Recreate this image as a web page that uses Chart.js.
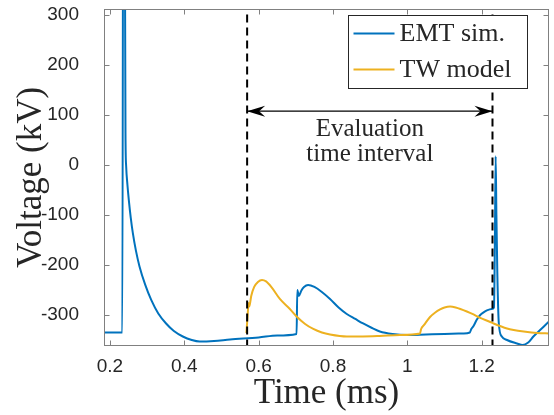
<!DOCTYPE html>
<html><head><meta charset="utf-8">
<script src="https://cdn.jsdelivr.net/npm/chart.js@4.4.0/dist/chart.umd.min.js"></script>
<style>html,body{margin:0;padding:0;background:#fff;}canvas{display:block;}</style>
</head><body>
<canvas id="c" width="554" height="415"></canvas>
<script>
// ---- data ----
const emtTime = [0.184,0.2333,0.2362,0.2400,0.2418,0.2436,0.2470,0.2507,0.2560,0.2615,0.2700,0.2795,0.2950,0.3110,0.3300,0.3510,0.3720,0.3960,0.4200,0.4410,0.4800,0.5230,0.6000,0.6500,0.7020,0.7040,0.7080,0.7150,0.7220,0.7330,0.7500,0.7700,0.7920,0.8150,0.8370,0.8600,0.8810,0.9050,0.9260,0.9600,1.0000,1.0500,1.1000,1.1500,1.1680,1.1720,1.1780,1.1870,1.1960,1.2050,1.2140,1.2270,1.2330,1.2355,1.2375,1.2395,1.2420,1.2460,1.2540,1.2680,1.2950,1.3100,1.3250,1.3390,1.3600,1.3810];
const emtVoltage = [-335,-335,900,500,63,-3,-40,-70,-106,-136,-172,-203,-240,-270,-297,-317,-332,-343,-350,-353,-352,-349,-345,-341,-338,-250,-262,-251,-244,-240,-244,-254,-268,-285,-298,-308,-317,-326,-333,-338,-340,-339,-338,-337,-335,-328,-322,-309,-300,-295,-291,-288,-285,-150,17,-100,-216,-317,-343,-350,-357,-360,-355,-343,-328,-313];
const twTime = [0.5670,0.5700,0.5730,0.5750,0.5800,0.5880,0.5980,0.6090,0.6200,0.6350,0.6570,0.6840,0.7020,0.7250,0.7470,0.7700,0.7920,0.8370,0.8800,0.9260,0.9800,1.0340,1.0370,1.0450,1.0610,1.0750,1.0880,1.1000,1.1150,1.1300,1.1600,1.1780,1.1960,1.2230,1.2320,1.2680,1.2860,1.3130,1.3500,1.3810];
const twVoltage = [-336,-305,-276,-283,-262,-244,-234,-230,-233,-245,-268,-288,-303,-318,-328,-335,-339,-343,-343,-342,-340,-337,-328,-320,-304,-295,-289,-285,-283,-285,-293,-299,-306,-314,-317,-327,-330,-333,-336,-337];
const seriesLabels = ['EMT sim.', 'TW model'];
const xTickValues = [0.2, 0.4, 0.6, 0.8, 1.0, 1.2];
const xTickLabels = ['0.2', '0.4', '0.6', '0.8', '1', '1.2'];
const yTickValues = [-300, -200, -100, 0, 100, 200, 300];
const yTickLabels = ['-300', '-200', '-100', '0', '100', '200', '300'];
const xRange = [0.184, 1.381];
const yRange = [-362, 311];
const intervalStart = 0.569, intervalEnd = 1.229;
const dashTop = 300;
const arrowLevel = 107;
const annotationLines = ['Evaluation', 'time interval'];
const annotationLevels = [57, 7];
const xTitle = 'Time (ms)';
const yTitle = 'Voltage (kV)';

// ---- styles ----
const BLUE = '#0072BD', ORANGE = '#EDB120', TXT = '#262626', AX = '#808080';
const SERIF = '"Liberation Serif", "Times New Roman", serif';
const SANS = '"Liberation Sans", Arial, sans-serif';

const pts = (xs, ys) => xs.map((v, i) => ({x: v, y: ys[i]}));

function head(ctx, tx, ty, dir) {
  ctx.beginPath();
  ctx.moveTo(tx, ty);
  ctx.lineTo(tx + dir * 18, ty - 5.5);
  ctx.lineTo(tx + dir * 12, ty);
  ctx.lineTo(tx + dir * 18, ty + 5.5);
  ctx.closePath();
  ctx.fill();
}

const decor = {
  id: 'decor',
  afterDatasetsDraw(chart) {
    const {ctx, chartArea: a, scales: {x, y}} = chart;
    ctx.save();
    ctx.fillStyle = '#000';
    const ay = y.getPixelForValue(arrowLevel);
    head(ctx, x.getPixelForValue(intervalStart), ay, 1);
    head(ctx, x.getPixelForValue(intervalEnd), ay, -1);
    ctx.fillStyle = TXT;
    ctx.font = '25px ' + SERIF;
    ctx.textAlign = 'center';
    ctx.textBaseline = 'alphabetic';
    const cx = x.getPixelForValue((intervalStart + intervalEnd) / 2);
    annotationLines.forEach((t, i) => ctx.fillText(t, cx, y.getPixelForValue(annotationLevels[i])));
    const L = Math.round(a.left) + 0.5, R = Math.round(a.right) - 0.5;
    const T = Math.round(a.top) + 0.5, B = Math.round(a.bottom) - 0.5;
    ctx.strokeStyle = AX; ctx.lineWidth = 1;
    ctx.strokeRect(L, T, R - L, B - T);
    ctx.beginPath();
    xTickValues.forEach(v => {
      const px = Math.round(x.getPixelForValue(v)) + 0.5;
      ctx.moveTo(px, B); ctx.lineTo(px, B - 5);
      ctx.moveTo(px, T); ctx.lineTo(px, T + 5);
    });
    yTickValues.forEach(v => {
      const py = Math.round(y.getPixelForValue(v)) + 0.5;
      ctx.moveTo(L, py); ctx.lineTo(L + 5, py);
      ctx.moveTo(R, py); ctx.lineTo(R - 5, py);
    });
    ctx.stroke();
    ctx.restore();
  },
  afterDraw(chart) {
    const {ctx, chartArea: a} = chart;
    ctx.save();
    const bx = Math.round(a.right - 22 - 179) + 0.5, by = Math.round(a.top + 6) + 0.5, bw = 179, bh = 73;
    ctx.fillStyle = '#fff';
    ctx.fillRect(bx, by, bw, bh);
    ctx.strokeStyle = '#262626'; ctx.lineWidth = 1;
    ctx.strokeRect(bx, by, bw, bh);
    const rows = [by + 18, by + 54];
    ctx.font = '26px ' + SERIF;
    ctx.textAlign = 'left'; ctx.textBaseline = 'middle';
    chart.data.datasets.slice(0, 2).forEach((ds, i) => {
      ctx.strokeStyle = ds.borderColor; ctx.lineWidth = 2;
      ctx.beginPath(); ctx.moveTo(bx + 5, rows[i]); ctx.lineTo(bx + 46, rows[i]); ctx.stroke();
      ctx.fillStyle = TXT;
      ctx.fillText(ds.label, bx + 51, rows[i] + 1);
    });
    ctx.restore();
  }
};

new Chart(document.getElementById('c'), {
  type: 'line',
  data: {
    datasets: [
      {label: seriesLabels[0], data: pts(emtTime, emtVoltage), borderColor: BLUE, borderWidth: 2, pointRadius: 0, cubicInterpolationMode: 'monotone', clip: 0, order: 2},
      {label: seriesLabels[1], data: pts(twTime, twVoltage), borderColor: ORANGE, borderWidth: 2, pointRadius: 0, cubicInterpolationMode: 'monotone', clip: 0, order: 1},
      {label: 'start', data: [{x: intervalStart, y: dashTop}, {x: intervalStart, y: yRange[0]}], borderColor: '#000', borderWidth: 2, borderDash: [8, 5], pointRadius: 0, clip: 0, order: 0},
      {label: 'end', data: [{x: intervalEnd, y: dashTop}, {x: intervalEnd, y: yRange[0]}], borderColor: '#000', borderWidth: 2, borderDash: [8, 5], pointRadius: 0, clip: 0, order: 0},
      {label: 'arrow', data: [{x: intervalStart, y: arrowLevel}, {x: intervalEnd, y: arrowLevel}], borderColor: '#000', borderWidth: 1.2, pointRadius: 0, clip: 0, order: 0}
    ]
  },
  options: {
    responsive: false,
    animation: false,
    devicePixelRatio: 1,
    layout: {padding: {top: 9, right: 5, left: 0, bottom: 0}},
    plugins: {legend: {display: false}, tooltip: {enabled: false}},
    scales: {
      x: {
        type: 'linear', min: xRange[0], max: xRange[1],
        afterBuildTicks: s => { s.ticks = xTickValues.map(v => ({value: v})); },
        afterFit: s => { s.height = 69; s.paddingLeft = 0; s.paddingRight = 0; },
        grid: {display: false}, border: {display: false},
        ticks: {callback: (v, i) => xTickLabels[i], color: TXT, font: {family: SANS, size: 19}, padding: 1, maxRotation: 0, autoSkip: false},
        title: {display: true, text: xTitle, color: TXT, font: {family: SERIF, size: 35, lineHeight: 1}, padding: {top: 0, bottom: 4}}
      },
      y: {
        type: 'linear', min: yRange[0], max: yRange[1],
        afterBuildTicks: s => { s.ticks = yTickValues.map(v => ({value: v})); },
        afterFit: s => { s.width = 104; s.paddingTop = 0; s.paddingBottom = 0; },
        grid: {display: false}, border: {display: false},
        ticks: {callback: (v, i) => yTickLabels[i], color: TXT, font: {family: SANS, size: 19}, padding: 17, autoSkip: false},
        title: {display: true, text: yTitle, color: TXT, font: {family: SERIF, size: 35, lineHeight: 1}, padding: {top: 14, bottom: 0}}
      }
    }
  },
  plugins: [decor]
});
</script>
</body></html>
